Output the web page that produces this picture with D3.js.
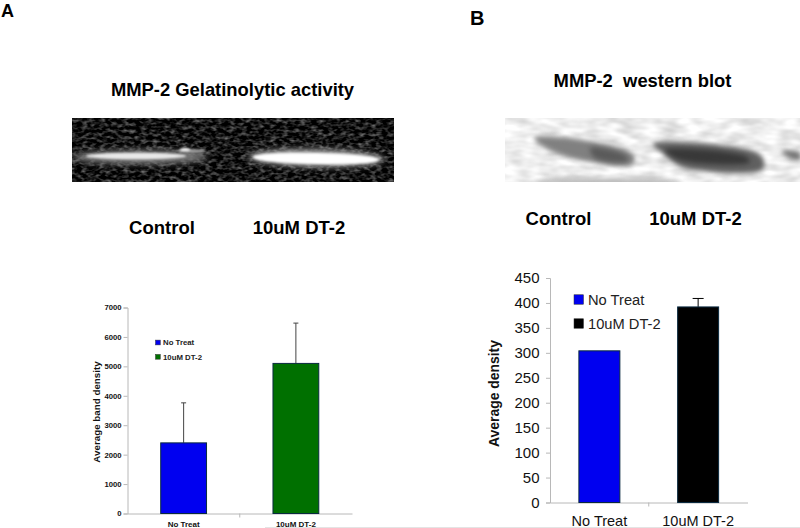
<!DOCTYPE html>
<html><head><meta charset="utf-8">
<script src="https://cdn.jsdelivr.net/npm/d3@7"></script>
<style>html,body{margin:0;padding:0;background:#fff}svg{display:block}text{font-family:"Liberation Sans",Arial,sans-serif}</style>
</head><body><svg id="c" width="800" height="528"></svg>
<script>
const categories = ["No Treat", "10uM DT-2"];
const valuesA = [2400, 5100];
const errorsA = [1360, 1370];
const valuesB = [304, 392];
const errorsB = [0, 17];
const ticksA = [0,1000,2000,3000,4000,5000,6000,7000];
const ticksB = [0,50,100,150,200,250,300,350,400,450];
const coloursA = ["#0000f0", "#007000"];
const coloursB = ["#0000f0", "#000000"];

const svg = d3.select("#c");
const defs = svg.append("defs");
const blur = (id, s) => defs.append("filter").attr("id", id).attr("color-interpolation-filters","sRGB").attr("x","-30%").attr("y","-150%").attr("width","160%").attr("height","400%")
  .append("feGaussianBlur").attr("stdDeviation", s);
blur("b1", 1.1); blur("b2", 3); blur("b4", 2.8); blur("b5", 2.4);

// mottled textures generated by the filter engine, only for the photo backgrounds
const gel = defs.append("filter").attr("id","gelNoise").attr("color-interpolation-filters","sRGB").attr("x",0).attr("y",0).attr("width","100%").attr("height","100%");
gel.append("feTurbulence").attr("type","fractalNoise").attr("baseFrequency","0.17 0.3").attr("numOctaves",2).attr("seed",7);
gel.append("feColorMatrix").attr("type","matrix").attr("values","0.95 0 0 0 -0.39  0.95 0 0 0 -0.39  0.95 0 0 0 -0.39  0 0 0 0 1");
gel.append("feGaussianBlur").attr("stdDeviation",0.6);
const blotF = defs.append("filter").attr("id","blotNoise").attr("color-interpolation-filters","sRGB").attr("x",0).attr("y",0).attr("width","100%").attr("height","100%");
blotF.append("feTurbulence").attr("type","fractalNoise").attr("baseFrequency","0.05 0.12").attr("numOctaves",2).attr("seed",3);
blotF.append("feColorMatrix").attr("type","matrix").attr("values","0.3 0 0 0 0.78  0.3 0 0 0 0.78  0.3 0 0 0 0.78  0 0 0 0 1");
defs.append("clipPath").attr("id","gc").append("rect").attr("x",72).attr("y",118).attr("width",322).attr("height",64);
defs.append("clipPath").attr("id","bc").append("rect").attr("x",505).attr("y",118).attr("width",295).attr("height",64);

// Panel letters and headings
const label = (x,y,t,size,extra={}) => {
  const s = svg.append("text").attr("x",x).attr("y",y).attr("font-size",size).attr("font-weight","bold").attr("fill","#000").text(t);
  if (extra.anchor) s.attr("text-anchor",extra.anchor);
  return s;
};
label(1,17,"A",18);
label(470,25,"B",20);
label(232.5,95.5,"MMP-2 Gelatinolytic activity",18.4,{anchor:"middle"});
label(642.5,86.5,"MMP-2  western blot",18.4,{anchor:"middle"}).style("white-space","pre");
label(162,234,"Control",18.5,{anchor:"middle"});
label(299,234,"10uM DT-2",18.5,{anchor:"middle"});
label(558.5,225,"Control",18.5,{anchor:"middle"});
label(695.5,225,"10uM DT-2",18.5,{anchor:"middle"});

// Gel photograph
const g = svg.append("g").attr("clip-path","url(#gc)");
g.append("rect").attr("x",72).attr("y",118).attr("width",322).attr("height",64).attr("fill","#000").attr("filter","url(#gelNoise)");
const ell = (p,cx,cy,rx,ry,fill,f,rot=0,op=1) => p.append("ellipse").attr("cx",cx).attr("cy",cy).attr("rx",rx).attr("ry",ry).attr("fill",fill).attr("opacity",op)
  .attr("filter",f?`url(#${f})`:null).attr("transform",rot?`rotate(${rot} ${cx} ${cy})`:null);
ell(g,140,157,68,7,"#808080","b2");
ell(g,136,156,50,3.3,"#e8e8e8","b1");
ell(g,192,151,14,2,"#999","b1");
ell(g,185,149.5,5,1.6,"#fff","b1");
ell(g,316,158,68,9,"#a8a8a8","b2",1.2);
ell(g,316,158.5,63,5.6,"#ffffff","b1",1.2);

// Western blot photograph
const b = svg.append("g").attr("clip-path","url(#bc)");
b.append("rect").attr("x",505).attr("y",118).attr("width",295).attr("height",64).attr("fill","#fff").attr("filter","url(#blotNoise)");
const poly = (pts,fill,f,op=1) => b.append("path").attr("d",d3.line().curve(d3.curveCatmullRomClosed)(pts)).attr("fill",fill).attr("opacity",op).attr("filter",`url(#${f})`);
poly([[534,138],[595,142],[634,155],[633,164],[590,162],[552,151]],"#808080","b4");
poly([[590,148],[625,155],[628,161],[595,158]],"#5a5a5a","b5");
poly([[653,144],[755,152],[764,161],[762,170],[682,167],[665,155]],"#606060","b4");
poly([[665,150],[745,156],[750,162],[680,160]],"#383838","b5");
poly([[782,151],[800,153],[800,160],[788,157]],"#707070","b5");
poly([[535,182],[680,182],[680,184],[535,184]],"#bbb","b5");

// Bar charts
function chart(o){
  const x = d3.scaleBand().domain(o.cats).range(o.xr).paddingInner(o.pi).paddingOuter(o.pi/2);
  const y = d3.scaleLinear().domain(o.dom).range(o.yr);
  const root = svg.append("g");
  const ay = root.append("g").attr("transform",`translate(${o.xr[0]},0)`)
    .call(d3.axisLeft(y).tickValues(o.ticks).tickSize(o.ts).tickPadding(o.tp).tickFormat(d3.format("d")));
  const ax = root.append("g").attr("transform",`translate(0,${o.yr[0]})`)
    .call(d3.axisBottom(x).tickSize(0).tickPadding(o.xp));
  [ay,ax].forEach(a=>{
    a.selectAll("path").attr("stroke","#b8b8b8").attr("stroke-width",1);
    a.selectAll("line").attr("stroke","#b8b8b8");
    a.selectAll("text").attr("font-family",'"Liberation Sans",Arial,sans-serif').attr("fill","#111");
  });
  ay.selectAll("text").attr("font-size",o.fs).attr("font-weight",o.fw);
  ax.selectAll("text").attr("font-size",o.xfs).attr("font-weight",o.fw);
  root.append("g").selectAll("line.sep").data(o.cats.slice(1)).join("line")
    .attr("x1",d=>x(d)-x.step()*o.pi/2).attr("x2",d=>x(d)-x.step()*o.pi/2)
    .attr("y1",o.yr[0]).attr("y2",o.yr[0]+o.ts).attr("stroke","#b8b8b8");
  const er = root.append("g");
  er.selectAll("line.e").data(o.cats).join("line").filter((d,i)=>o.errs[i]>0)
    .attr("x1",d=>x(d)+x.bandwidth()/2).attr("x2",d=>x(d)+x.bandwidth()/2)
    .attr("y1",(d,i)=>y(o.vals[o.cats.indexOf(d)])).attr("y2",d=>{const i=o.cats.indexOf(d);return y(o.vals[i]+o.errs[i]);})
    .attr("stroke",o.ec).attr("stroke-width",1);
  er.selectAll("line.c").data(o.cats).join("line").attr("class","c").filter(d=>o.errs[o.cats.indexOf(d)]>0)
    .attr("x1",d=>x(d)+x.bandwidth()/2-o.cap).attr("x2",d=>x(d)+x.bandwidth()/2+o.cap)
    .attr("y1",d=>{const i=o.cats.indexOf(d);return y(o.vals[i]+o.errs[i]);})
    .attr("y2",d=>{const i=o.cats.indexOf(d);return y(o.vals[i]+o.errs[i]);})
    .attr("stroke",o.ec).attr("stroke-width",1);
  root.append("g").selectAll("rect").data(o.cats).join("rect")
    .attr("x",d=>x(d)).attr("width",x.bandwidth())
    .attr("y",(d,i)=>y(o.vals[i])).attr("height",(d,i)=>o.yr[0]-y(o.vals[i]))
    .attr("fill",(d,i)=>o.cols[i]).attr("stroke","#0a2a40").attr("stroke-width",1);
  root.append("text").attr("transform",`translate(${o.ylx},${o.yly}) rotate(-90)`).attr("text-anchor","middle")
    .attr("font-size",o.yfs).attr("font-weight","bold").attr("fill","#111").text(o.yl);
  const leg = root.append("g").selectAll("g").data(o.cats).join("g").attr("transform",(d,i)=>`translate(${o.lx},${o.ly+i*o.ld})`);
  leg.append("rect").attr("x",0).attr("y",-o.ls/2).attr("width",o.ls).attr("height",o.ls).attr("fill",(d,i)=>o.cols[i]).attr("stroke","#333").attr("stroke-width",0.5);
  leg.append("text").attr("x",o.ls+o.lg).attr("dy","0.35em").attr("font-size",o.lfs).attr("font-weight",o.fw).attr("fill","#222").text(d=>d);
}
chart({cats:categories,vals:valuesA,errs:errorsA,cols:coloursA,dom:[0,7000],ticks:ticksA,
  xr:[127.5,352],yr:[513.5,307.5],pi:0.592,ts:4,tp:2,xp:8,fs:7.7,xfs:8,fw:"bold",ec:"#444",cap:2.5,
  yl:"Average band density",ylx:99.5,yly:412,yfs:9.8,lx:155.5,ly:342.5,ld:14.3,ls:4.8,lg:2.7,lfs:7.8});
chart({cats:categories,vals:valuesB,errs:errorsB,cols:coloursB,dom:[0,450],ticks:ticksB,
  xr:[550,747.5],yr:[502.5,278],pi:0.585,ts:4,tp:6.5,xp:13.5,fs:15,xfs:14.5,fw:"normal",ec:"#000",cap:5.5,
  yl:"Average density",ylx:498.5,yly:393.5,yfs:13.9,lx:574,ly:299.5,ld:24,ls:9.5,lg:4.5,lfs:14.7});
svg.append("line").attr("x1",265).attr("x2",800).attr("y1",527.5).attr("y2",527.5).attr("stroke","#e4e4e4");
</script></body></html>
